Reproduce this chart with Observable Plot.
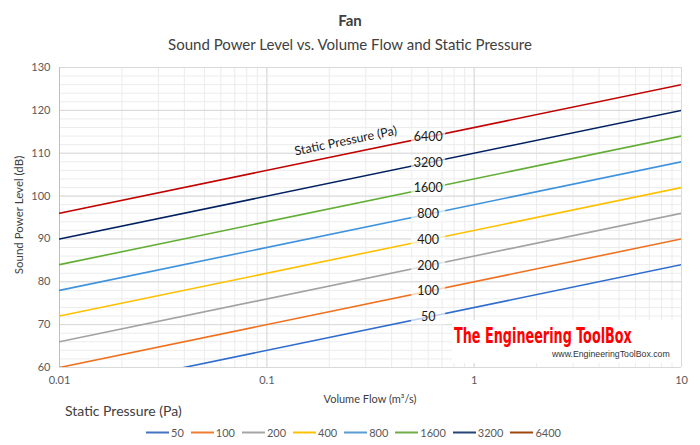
<!DOCTYPE html>
<html>
<head>
<meta charset="utf-8">
<script src="https://cdn.jsdelivr.net/npm/d3@7"></script>
<script src="https://cdn.jsdelivr.net/npm/@observablehq/plot@0.6"></script>
<style>
  body { margin: 0; background: #fff; font-family: Lato, "Noto Sans", sans-serif; }
  #chart { position: relative; width: 700px; height: 445px; overflow: hidden; background: #fff; }
  #chart > svg { position: absolute; left: 0; top: 0; }
  .abs { position: absolute; white-space: nowrap; }
  .title { left: 0; width: 700px; text-align: center; color: #404040; }
  #title { top: 10px; line-height: 20px; font-size: 15px; font-weight: bold; }
  #subtitle { top: 34px; line-height: 20px; font-size: 15px; color: #404040; }
  #ylabel { left: 18px; top: 215px; font-size: 11.5px; color: #404040; transform: translate(-50%, -50%) rotate(-90deg); }
  #xlabel { left: 370px; top: 398px; font-size: 11px; color: #404040; transform: translate(-50%, -50%); }
  #legend-title { left: 65px; top: 410px; font-size: 14px; color: #404040; transform: translateY(-50%); }
  #legend { left: 146px; top: 432px; transform: translateY(-50%); display: flex; align-items: center; font-size: 11px; color: #595959; }
  .item { display: flex; align-items: center; margin-right: 7px; }
  .swatch { width: 23px; height: 2px; margin-right: 2px; }
  #brand { left: 452px; top: 320px; width: 229px; height: 43px; background: #fff; }
  #brand svg { overflow: visible; }
</style>
</head>
<body>
<div id="chart">
  <div id="title" class="abs title">Fan</div>
  <div id="subtitle" class="abs title">Sound Power Level vs. Volume Flow and Static Pressure</div>
  <div id="ylabel" class="abs">Sound Power Level (dB)</div>
  <div id="xlabel" class="abs">Volume Flow (m³/s)</div>
  <div id="legend-title" class="abs">Static Pressure (Pa)</div>
  <div id="legend" class="abs"></div>
</div>
<script>
// Fan sound power level: one straight line (on log flow) per static pressure
const pressures = [50, 100, 200, 400, 800, 1600, 3200, 6400];
const flowEnds = [0.01, 10];                                   // m³/s
const levelAtLowFlow = [54, 60, 66, 72, 78, 84, 90, 96];       // dB at 0.01 m³/s
const levelAtHighFlow = [84, 90, 96, 102, 108, 114, 120, 126]; // dB at 10 m³/s

// In-chart pressure labels sitting on each line
const labelFlow = 0.6;
const labelLevels = [71.8, 77.8, 83.8, 89.8, 95.8, 101.8, 107.8, 113.8];
const curveTitle = "Static Pressure (Pa)";
const curveTitleFlow = 0.24;
const curveTitleLevel = 109.8;

const lineColors = ["#2f6bcf", "#f0701e", "#a3a3a3", "#ffc000", "#3f93de", "#62ae35", "#002060", "#c00000"];
const legendColors = ["#4472c4", "#ed7d31", "#a5a5a5", "#ffc000", "#5b9bd5", "#70ad47", "#264478", "#9e480e"];

const xTicks = [0.01, 0.1, 1, 10];
const xTickLabels = ["0.01", "0.1", "1", "10"];
const yTicks = [60, 70, 80, 90, 100, 110, 120, 130];

// Build line rows (two end points per pressure)
const rows = pressures.flatMap((p, i) => [
  {pressure: p, flow: flowEnds[0], level: levelAtLowFlow[i]},
  {pressure: p, flow: flowEnds[1], level: levelAtHighFlow[i]}
]);
const labelRows = pressures.map((p, i) => ({pressure: p, flow: labelFlow, level: labelLevels[i]}));

// Minor gridlines: every 2 dB and each 1..9 step within a decade
const yMinor = d3.range(60, 131, 2);
const xMinor = d3.scaleLog().domain([0.01, 10]).ticks();

// Rectangular backdrop behind the pressure labels
const labelBox = {draw(ctx) { ctx.rect(-17, -7.5, 34, 15); }};

const chart = Plot.plot({
  width: 700,
  height: 445,
  marginTop: 67,
  marginBottom: 78,
  marginLeft: 59,
  marginRight: 19,
  style: {fontFamily: "Lato, 'Noto Sans', sans-serif", color: "#595959", background: "transparent"},
  x: {type: "log", domain: [0.01, 10]},
  y: {domain: [60, 130]},
  color: {type: "ordinal", domain: pressures, range: lineColors},
  marks: [
    Plot.ruleY(yMinor, {stroke: "#ececec"}),
    Plot.ruleX(xMinor, {stroke: "#ececec"}),
    Plot.ruleY(yTicks, {stroke: "#d9d9d9"}),
    Plot.ruleX(xTicks, {stroke: "#d9d9d9"}),
    Plot.ruleX([0.01], {stroke: "#bfbfbf"}),
    Plot.line(rows, {x: "flow", y: "level", z: "pressure", stroke: "pressure", strokeWidth: 1.6, clip: true}),
    Plot.dot(labelRows, {x: "flow", y: "level", symbol: labelBox, fill: "white", fillOpacity: 0.7, stroke: null}),
    Plot.text(labelRows, {x: "flow", y: "level", text: d => String(d.pressure), fontSize: 12.5, fill: "#1a1a1a"}),
    Plot.text([curveTitle], {x: curveTitleFlow, y: curveTitleLevel, text: d => d, dy: -13, rotate: -11.7, fontSize: 12.5, fill: "#1a1a1a"}),
    Plot.axisX(xTicks, {tickSize: 0, tickPadding: 9, fontSize: 11, label: null, tickFormat: d => xTickLabels[xTicks.indexOf(d)]}),
    Plot.axisY(yTicks, {tickSize: 0, tickPadding: 9, fontSize: 11, label: null})
  ]
});
document.getElementById("chart").prepend(chart);

// Legend row
const legend = document.getElementById("legend");
pressures.forEach((p, i) => {
  const item = document.createElement("div");
  item.className = "item";
  const sw = document.createElement("div");
  sw.className = "swatch";
  sw.style.background = legendColors[i];
  const lab = document.createElement("span");
  lab.textContent = String(p);
  item.append(sw, lab);
  legend.append(item);
});

// Publisher mark in the lower right of the plot area
const brand = document.createElement("div");
brand.id = "brand";
brand.className = "abs";
brand.innerHTML = `<svg width="229" height="43">
  <text id="brand-name" font-family="'DejaVu Sans Condensed', 'DejaVu Sans'" font-weight="bold" font-size="22" fill="#ff0000">The Engineering ToolBox</text>
  <text id="brand-url" font-family="'Liberation Sans', Arial, sans-serif" font-size="9.5" fill="#333">www.EngineeringToolBox.com</text>
</svg>`;
document.getElementById("chart").append(brand);

// Squeeze each brand line horizontally to its target width
function fitText(el, x, y, width) {
  const w = el.getComputedTextLength();
  el.setAttribute("transform", `translate(${x},${y}) scale(${width / w},1)`);
}
fitText(document.getElementById("brand-name"), 2, 22.5, 178);
fitText(document.getElementById("brand-url"), 100, 37, 118);
</script>
</body>
</html>
